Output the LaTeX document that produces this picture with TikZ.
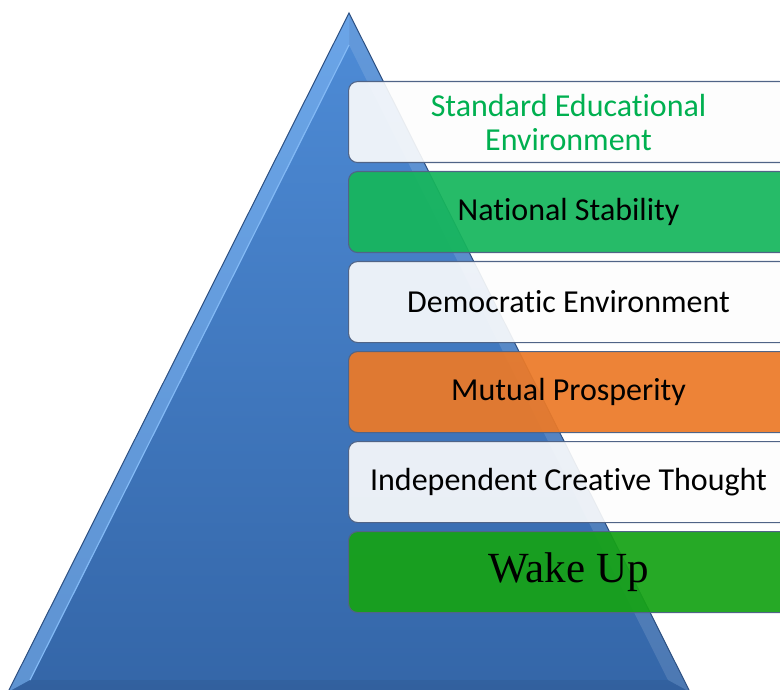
\documentclass[tikz,border=0pt]{standalone}
\usepackage{fontspec}
\setmainfont{Carlito}[Ligatures=NoCommon]
\newfontfamily\wakefont{Liberation Serif}
\definecolor{triA}{RGB}{78,140,215}
\definecolor{triB}{RGB}{52,102,168}
\definecolor{triEdge}{RGB}{45,80,130}
\definecolor{triLight}{RGB}{130,185,245}
\definecolor{boxEdge}{RGB}{80,100,135}
\definecolor{boxWhite}{RGB}{253,253,253}
\definecolor{boxGreen}{RGB}{22,182,92}
\definecolor{boxOrange}{RGB}{236,122,40}
\definecolor{boxDark}{RGB}{22,162,22}
\definecolor{txtGreen}{RGB}{0,176,80}
\tikzset{
  x=1pt, y=-1pt,
  tier/.style={draw=boxEdge, line width=1.1pt, rounded corners=9pt,
    minimum width=440pt, minimum height=81pt, anchor=north west,
    fill opacity=0.9, text opacity=1, inner sep=2pt,
    align=center, font=\fontsize{32}{34}\selectfont},
  solidtier/.style={tier, fill opacity=0.93},
}
\begin{document}
\begin{tikzpicture}
\useasboundingbox (0,0) rectangle (780,690);
\clip (0,0) rectangle (780,690);
% pyramid
\coordinate (apex) at (349,13);
\coordinate (bl) at (8,692);
\coordinate (br) at (690,692);
\shade[top color=triA, bottom color=triB] (apex) -- (br) -- (bl) -- cycle;
\fill[triLight, opacity=0.55] (apex) -- (349,45) -- (30,680) -- (bl) -- cycle;
\fill[triEdge, opacity=0.25] (bl) -- (30,680) -- (668,680) -- (br) -- cycle;
\fill[white, opacity=0.12] (apex) -- (349,45) -- (668,680) -- (br) -- cycle;
\draw[triLight, line width=1.2pt] (349,45) -- (30,680);
\draw[triEdge, line width=1pt] (apex) -- (br) -- (bl) -- cycle;
% tiers
\node[tier, fill=boxWhite, text=txtGreen] (t1) at (348,81) {Standard Educational\\Environment};
\node[solidtier, fill=boxGreen] (t2) at (348,171) {National Stability};
\node[tier, fill=boxWhite] (t3) at (348,261) {Democratic Environment};
\node[solidtier, fill=boxOrange] (t4) at (348,351) {Mutual Prosperity};
\node[tier, fill=boxWhite] (t5) at (348,441) {Independent Creative Thought};
\node[solidtier, fill=boxDark, font=\wakefont\fontsize{43}{46}\selectfont] (t6) at (348,531) {Wake Up};
\end{tikzpicture}
\end{document}
